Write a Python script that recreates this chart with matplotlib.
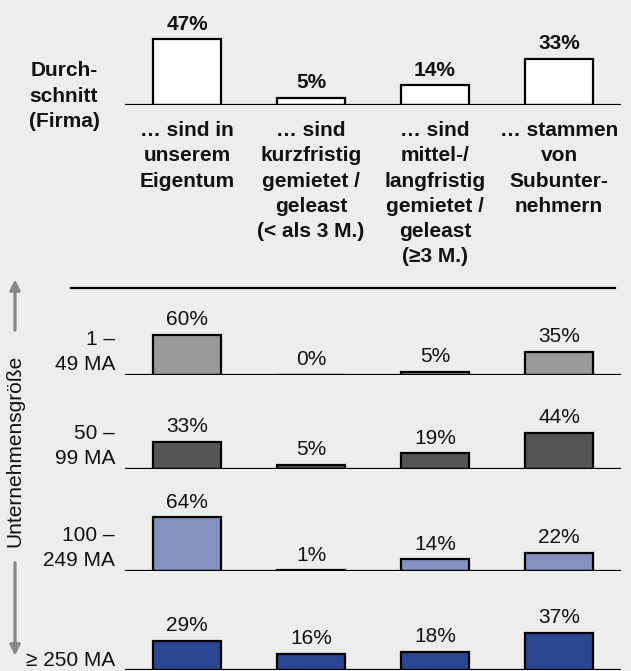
import matplotlib
matplotlib.use("Agg")
import matplotlib.pyplot as plt
from matplotlib.lines import Line2D

plt.rcParams['font.family'] = ['Liberation Sans', 'DejaVu Sans']

# data
categories = ["… sind in\nunserem\nEigentum",
              "… sind\nkurzfristig\ngemietet /\ngeleast\n(< als 3 M.)",
              "… sind\nmittel-/\nlangfristig\ngemietet /\ngeleast\n(≥3 M.)",
              "… stammen\nvon\nSubunter-\nnehmern"]
avg_values = [47, 5, 14, 33]
row_labels = ["1 –\n49 MA", "50 –\n99 MA", "100 –\n249 MA", "≥ 250 MA"]
row_values = [
    [60, 0, 5, 35],
    [33, 5, 19, 44],
    [64, 1, 14, 22],
    [29, 16, 18, 37],
]
row_colors = ["#999999", "#555555", "#8291be", "#2b4692"]

W, H = 631, 671
BG = "#efecec"
FS = 15
LS = 1.42

fig = plt.figure(figsize=(W / 100, H / 100), dpi=100, facecolor=BG)

def fx(px):
    return px / W

def fy(px):
    return 1 - px / H

X0, X1 = 125, 621
x = range(len(categories))

def make_axes(base_px, height_px, px_per_pct):
    ax = fig.add_axes([fx(X0), fy(base_px), fx(X1) - fx(X0), height_px / H])
    ax.set_facecolor("none")
    ax.set_xlim(-0.5, 3.5)
    ax.set_ylim(0, height_px / px_per_pct)
    ax.axis("off")
    ax.axhline(0, color="black", lw=1.6, zorder=3)
    return ax

def draw_bars(ax, vals, color, bold):
    bars = ax.bar(x, vals, width=0.55, color=color, edgecolor="black",
                  linewidth=1.6, zorder=2)
    for b, v in zip(bars, vals):
        ax.annotate(f"{v}%", (b.get_x() + b.get_width() / 2, v),
                    xytext=(0, 4), textcoords="offset points",
                    ha="center", va="bottom", fontsize=FS,
                    fontweight="bold" if bold else "normal", color="#111111")

# average panel
ax_top = make_axes(105, 100, 1.40)
draw_bars(ax_top, avg_values, "white", True)
fig.text(fx(64), fy(96), "Durch-\nschnitt\n(Firma)", ha="center", va="center",
         fontsize=FS, fontweight="bold", color="#111111", linespacing=LS)
for i, cat in enumerate(categories):
    fig.text(fx(187 + 124 * i), fy(121), cat, ha="center", va="top",
             fontsize=FS, fontweight="bold", color="#111111", linespacing=LS)

# separator
fig.add_artist(Line2D([fx(71), fx(615)], [fy(288), fy(288)], color="black", lw=1.6))

# size rows
baselines = [375, 469, 571, 669.5]
label_y = [374, 468, 570, 670.5]
scales = [0.67, 0.82, 0.84, 1.0]
for base, ly, sc, vals, col, lab in zip(baselines, label_y, scales, row_values,
                                        row_colors, row_labels):
    ax = make_axes(base, 80, sc)
    draw_bars(ax, vals, col, False)
    fig.text(fx(115), fy(ly), lab, ha="right", va="bottom",
             fontsize=FS, color="#111111", linespacing=LS)

# vertical axis label with arrows
fig.text(fx(15), fy(451), "Unternehmensgröße", rotation=90, ha="center",
         va="center", fontsize=FS, color="#111111")
arrow = dict(arrowstyle="-|>,head_width=0.3,head_length=0.6", color="#888888", lw=2)
fig.add_artist(plt.annotate("", xy=(fx(15), fy(277)), xytext=(fx(15), fy(333)),
                            xycoords="figure fraction", arrowprops=arrow))
fig.add_artist(plt.annotate("", xy=(fx(15), fy(658)), xytext=(fx(15), fy(560)),
                            xycoords="figure fraction", arrowprops=arrow))

fig.savefig("out.png", dpi=100, facecolor=BG)
